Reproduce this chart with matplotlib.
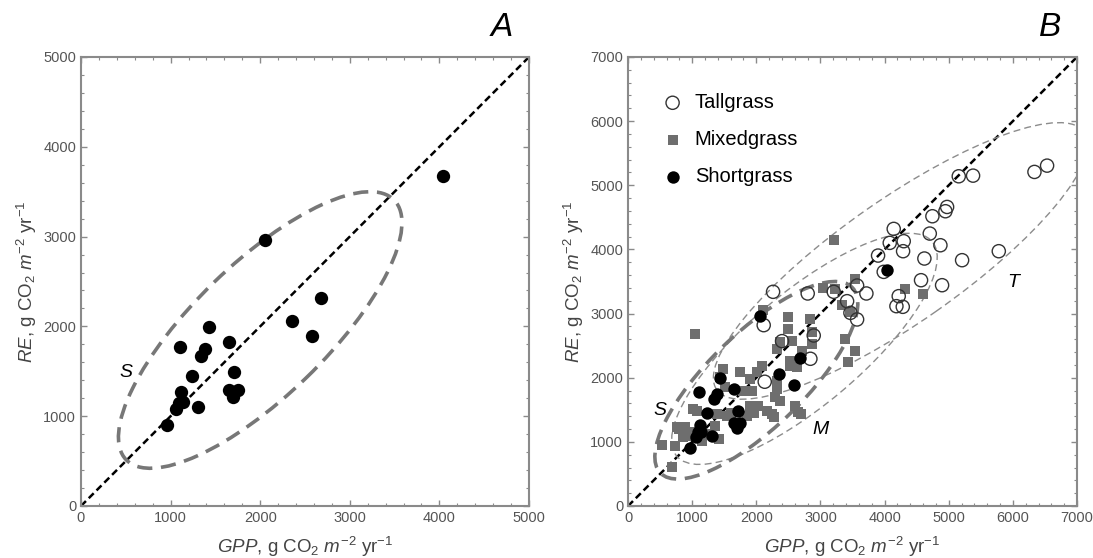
import matplotlib
matplotlib.use("Agg")
import matplotlib.pyplot as plt
from matplotlib.patches import Ellipse
from matplotlib.ticker import MultipleLocator

plt.rcParams['font.family'] = ['Liberation Sans', 'DejaVu Sans']
plt.rcParams['mathtext.fontset'] = 'custom'
plt.rcParams['mathtext.rm'] = 'Liberation Sans'
plt.rcParams['mathtext.it'] = 'Liberation Sans:italic'

# shortgrass sites (same in both panels)
short_gpp = [960, 1060, 1090, 1115, 1140, 1304, 1100, 1237, 1341, 1385, 1433,
             1656, 1711, 1648, 1693, 1748, 2052, 2359, 2581, 2674, 4037]
short_re = [900, 1080, 1150, 1265, 1160, 1097, 1773, 1442, 1673, 1747, 1989,
            1822, 1487, 1290, 1216, 1290, 2967, 2056, 1892, 2312, 3680]

tall_gpp = [2261, 2115, 2401, 2131, 2801, 2895, 2843, 3207, 3415, 3571, 3716, 3467,
            3571, 3898, 3986, 4080, 4142, 4298, 4288, 4620, 4568, 4220, 4184, 4283,
            4704, 4745, 4870, 4896, 4948, 4974, 5156, 5379, 5208, 5780, 6336, 6533]
tall_re = [3339, 2819, 2570, 1937, 3313, 2658, 2295, 3339, 3193, 3437, 3313, 3011,
           2908, 3904, 3650, 4102, 4320, 4128, 3972, 3858, 3520, 3271, 3115, 3105,
           4247, 4517, 4065, 3442, 4595, 4662, 5140, 5150, 3832, 3972, 5208, 5306]

mixed_gpp = [530, 681, 733, 759, 863, 889, 800, 919, 980, 1018, 1045, 1076, 1150,
             1200, 1356, 1383, 1420, 1434, 1476, 1512, 1543, 1600, 1746, 1798, 1855,
             1902, 1902, 1934, 1970, 2006, 2032, 2089, 2100, 2167, 2240, 2280, 2292,
             2318, 2318, 2318, 2370, 2376, 2500, 2500, 2526, 2526, 2557, 2604, 2630,
             2655, 2690, 2708, 2843, 2864, 2864, 3035, 3212, 3227, 3332, 3383, 3435,
             3461, 3539, 3539, 4319, 4594]
mixed_re = [945, 603, 939, 1226, 1070, 1226, 1205, 1090, 1150, 1511, 2679, 1480, 1020,
            1120, 1251, 1433, 1050, 2004, 2139, 1848, 1402, 1450, 2082, 1796, 1402,
            1978, 1562, 1791, 1454, 2082, 1562, 2181, 3060, 1480, 1433, 1380, 1693,
            2445, 1952, 1822, 2549, 1635, 2939, 2757, 2263, 2186, 2570, 1562, 2160,
            1459, 1430, 2419, 2908, 2705, 2523, 3406, 4148, 3380, 3131, 2601, 2238,
            3017, 3536, 2419, 3380, 3302]

# confidence ellipses: centre x, centre y, semi-major, semi-minor, angle
ell_S = (2000, 1960, 2080, 740, 44)
ell_M = (2750, 2450, 2600, 880, 40)
ell_T = (4250, 3820, 3500, 960, 35)

tick_col = '#555555'
frame_col = '#8a8a8a'


def style_axes(ax, lim, step):
    ax.set_xlim(0, lim)
    ax.set_ylim(0, lim)
    ax.xaxis.set_major_locator(MultipleLocator(step))
    ax.yaxis.set_major_locator(MultipleLocator(step))
    ax.xaxis.set_minor_locator(MultipleLocator(step / 5))
    ax.yaxis.set_minor_locator(MultipleLocator(step / 5))
    ax.tick_params(which='both', direction='in', top=True, right=True,
                   color=frame_col, labelcolor=tick_col, labelsize=10.5)
    ax.tick_params(which='major', length=4, width=1)
    ax.tick_params(which='minor', length=2, width=0.8)
    for s in ax.spines.values():
        s.set_color(frame_col)
        s.set_linewidth(1.5)
    ax.plot([0, lim], [0, lim], color='black', lw=1.8, ls=(0, (2.8, 1.6)), zorder=1)
    ax.set_xlabel(r'$GPP$, g CO$_2$ $m^{-2}$ yr$^{-1}$', fontsize=13.5,
                  color='#444444', labelpad=7)
    ax.set_ylabel(r'$RE$, g CO$_2$ $m^{-2}$ yr$^{-1}$', fontsize=13.5,
                  color='#444444', labelpad=3)


def add_ellipse(ax, e, lw, dash, col):
    cx, cy, a, b, ang = e
    ax.add_patch(Ellipse((cx, cy), 2 * a, 2 * b, angle=ang, fill=False,
                         edgecolor=col, lw=lw, ls=(0, dash), zorder=2))


fig = plt.figure(figsize=(10.93, 5.58), dpi=100)
axA = fig.add_axes([0.0741, 0.0932, 0.4099, 0.8047])
axB = fig.add_axes([0.5746, 0.0932, 0.4108, 0.8047])

# panel A
style_axes(axA, 5000, 1000)
add_ellipse(axA, ell_S, 2.6, (4.2, 2.4), '#777777')
axA.scatter(short_gpp, short_re, s=92, color='black', zorder=4, lw=0)
axA.text(507, 1487, 'S', fontsize=14, style='italic', ha='center', va='center')

# panel B
style_axes(axB, 7000, 1000)
add_ellipse(axB, ell_T, 1.0, (5, 3), '#8c8c8c')
add_ellipse(axB, ell_M, 1.0, (5, 3), '#8c8c8c')
add_ellipse(axB, ell_S, 2.6, (4.2, 2.4), '#777777')
axB.scatter(mixed_gpp, mixed_re, s=52, marker='s', color='#6e6e6e', lw=0,
            zorder=3, label='Mixedgrass')
axB.scatter(tall_gpp, tall_re, s=90, facecolor='none', edgecolor='#333333',
            lw=1, zorder=4, label='Tallgrass')
axB.scatter(short_gpp, short_re, s=80, color='black', zorder=5, lw=0,
            label='Shortgrass')
axB.text(504, 1495, 'S', fontsize=14, style='italic', ha='center', va='center')
axB.text(2999, 1194, 'M', fontsize=14, style='italic', ha='center', va='center')
axB.text(5998, 3489, 'T', fontsize=14, style='italic', ha='center', va='center')

h, l = axB.get_legend_handles_labels()
order = [1, 0, 2]
axB.legend([h[i] for i in order], [l[i] for i in order], loc='upper left',
           bbox_to_anchor=(0.023, 0.96), frameon=False, fontsize=14.5,
           handlelength=1.6, handletextpad=0.3, labelspacing=0.9)

fig.text(502 / 1093, 1 - 28 / 558, 'A', fontsize=24, style='italic',
         ha='center', va='center')
fig.text(1050 / 1093, 1 - 28 / 558, 'B', fontsize=24, style='italic',
         ha='center', va='center')

fig.savefig('out.png', dpi=100)
